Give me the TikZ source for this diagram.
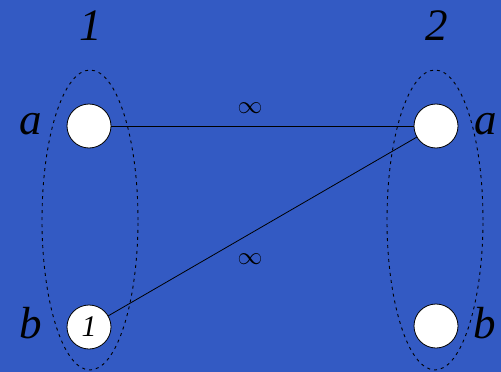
\documentclass[tikz,border=0pt]{standalone}
\usepackage{amsmath}
\usepackage{fontspec}
\setmainfont{Liberation Serif}
\usepackage{tikz}
\usetikzlibrary{shapes.geometric,positioning}

\definecolor{slide}{RGB}{51,90,195}

\tikzset{
  vertex/.style={circle,draw=black,fill=white,minimum size=44pt,inner sep=0pt,line width=0.8pt},
  part/.style={ellipse,draw=black,line width=0.9pt,dash pattern=on 3pt off 4pt,minimum width=96pt,minimum height=300pt,inner sep=0pt},
  lbl/.style={font=\fontsize{45}{45}\selectfont\itshape},
  cost/.style={font=\fontsize{30}{30}\selectfont}
}

\begin{document}
\begin{tikzpicture}[x=1pt,y=-1pt]
  \fill[slide] (0,0) rectangle (501,372);
  \useasboundingbox (0,0) rectangle (501,372);

  % the two sides
  \node[part] (P1) at (90,220) {};
  \node[part] (P2) at (435,220) {};
  \node[lbl] (t1) at (91,26) {1};
  \node[lbl] (t2) at (437,26) {2};

  % vertices
  \node[vertex] (a1) at (89,126) {};
  \node[vertex,font=\fontsize{30}{30}\selectfont\itshape] (b1) at (89,327) {1};
  \node[vertex] (a2) at (436,126) {};
  \node[vertex] (b2) at (436,326) {};

  \node[lbl] (la1) at (31,124) {a};
  \node[lbl] (lb1) at (31,323) {b};
  \node[lbl] (la2) at (486,124) {a};
  \node[lbl] (lb2) at (485,323) {b};

  % edges
  \draw[line width=0.8pt] (a1) -- (a2);
  \draw[line width=0.8pt] (b1) -- (a2);
  \node[cost] (c1) at (250,108) {$\infty$};
  \node[cost] (c2) at (250,259) {$\infty$};
\end{tikzpicture}
\end{document}
